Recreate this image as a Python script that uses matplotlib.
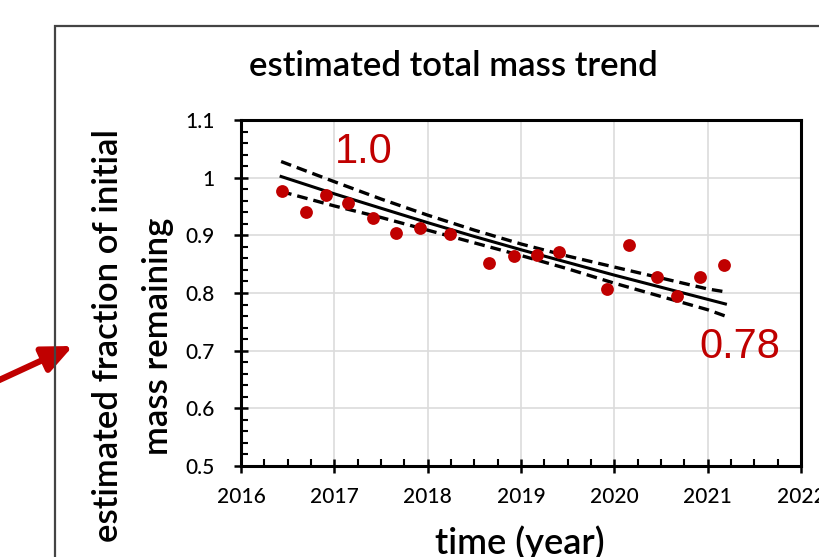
import numpy as np
import matplotlib
matplotlib.use("Agg")
import matplotlib.pyplot as plt
from matplotlib.patches import Rectangle, FancyArrowPatch
from matplotlib.ticker import MultipleLocator

# measured points (fraction of initial mass)
years = [2016.44, 2016.70, 2016.91, 2017.15, 2017.41, 2017.66, 2017.92, 2018.24, 2018.66,
         2018.92, 2019.17, 2019.41, 2019.92, 2020.16, 2020.46, 2020.67, 2020.92, 2021.17]
fraction = [0.977, 0.940, 0.970, 0.956, 0.930, 0.904, 0.913, 0.902, 0.852,
            0.864, 0.866, 0.871, 0.807, 0.883, 0.827, 0.794, 0.827, 0.848]

# trend line and its confidence band
trend_x = [2016.43, 2017.0, 2017.5, 2018.0, 2018.5, 2019.0, 2019.5, 2020.0, 2020.5, 2021.0, 2021.19]
trend_y = [1.002, 0.972, 0.947, 0.922, 0.898, 0.875, 0.853, 0.831, 0.810, 0.789, 0.781]
upper_y = [1.028, 0.993, 0.963, 0.935, 0.909, 0.885, 0.864, 0.845, 0.826, 0.807, 0.802]
lower_y = [0.976, 0.951, 0.931, 0.909, 0.887, 0.865, 0.842, 0.817, 0.794, 0.771, 0.760]

xticks = [2016, 2017, 2018, 2019, 2020, 2021, 2022]
yticks = [0.5, 0.6, 0.7, 0.8, 0.9, 1.0, 1.1]
ytick_labels = ["0.5", "0.6", "0.7", "0.8", "0.9", "1", "1.1"]

red = "#C00000"
font = ["Lato", "DejaVu Sans"]

fig = plt.figure(figsize=(8.2, 5.57), dpi=100)
ax = fig.add_axes([241/820, 1 - 466/557, 560/820, 346/557])

ax.grid(True, which="major", color="#dcdcdc", lw=1.2, zorder=0)
ax.plot(trend_x, upper_y, color="black", lw=2.4, ls=(0, (3.2, 1.8)), zorder=3)
ax.plot(trend_x, lower_y, color="black", lw=2.4, ls=(0, (3.2, 1.8)), zorder=3)
ax.plot(trend_x, trend_y, color="black", lw=2.2, zorder=3)
ax.scatter(years, fraction, s=85, color=red, zorder=4, linewidths=0)

ax.set_xlim(2016, 2022)
ax.set_ylim(0.5, 1.1)
ax.set_xticks(xticks)
ax.set_xticklabels([str(x) for x in xticks])
ax.set_yticks(yticks)
ax.set_yticklabels(ytick_labels)
ax.xaxis.set_minor_locator(MultipleLocator(0.25))
ax.yaxis.set_minor_locator(MultipleLocator(0.02))
ax.tick_params(which="major", direction="inout", length=10, width=1.8, labelsize=15)
ax.tick_params(axis="x", which="major", pad=10)
ax.tick_params(axis="y", which="major", pad=14)
ax.tick_params(which="minor", direction="in", length=5, width=1.5)
for lab in ax.get_xticklabels() + ax.get_yticklabels():
    lab.set_family(font)
    lab.set_weight("medium")
for s in ax.spines.values():
    s.set_linewidth(2.2)

ax.text(2017.32, 1.0445, "1.0", color=red, fontsize=30, ha="center", va="center",
        family="Liberation Sans")
ax.text(2021.34, 0.7064, "0.78", color=red, fontsize=30, ha="center", va="center",
        family="Liberation Sans")

fig.text(453/820, 1 - 66/557, "estimated total mass trend", fontsize=25, ha="center",
         va="center", family=font, weight="semibold")
fig.text(133/820, 1 - 336/557, "estimated fraction of initial\nmass remaining", fontsize=25,
         rotation=90, ha="center", va="center", family=font, weight="semibold", linespacing=1.72)
fig.text(520/820, 1 - 543/557, "time (year)", fontsize=26, ha="center", va="center",
         family=font, weight="semibold")

# outer chart border (cut off by the screenshot)
fig.patches.append(Rectangle((55/820, -0.2), 1.2, 0.2 + 1 - 26/557, transform=fig.transFigure,
                             fill=False, edgecolor="#444444", lw=1.6))

# red pointer arrow
fig.add_artist(FancyArrowPatch((-5/820, 1 - 382/557), (73/820, 1 - 346/557),
               transform=fig.transFigure, arrowstyle="-|>,head_length=18,head_width=8",
               color=red, lw=4.5, mutation_scale=1, shrinkA=0, shrinkB=0))

fig.savefig("out.png", dpi=100)
